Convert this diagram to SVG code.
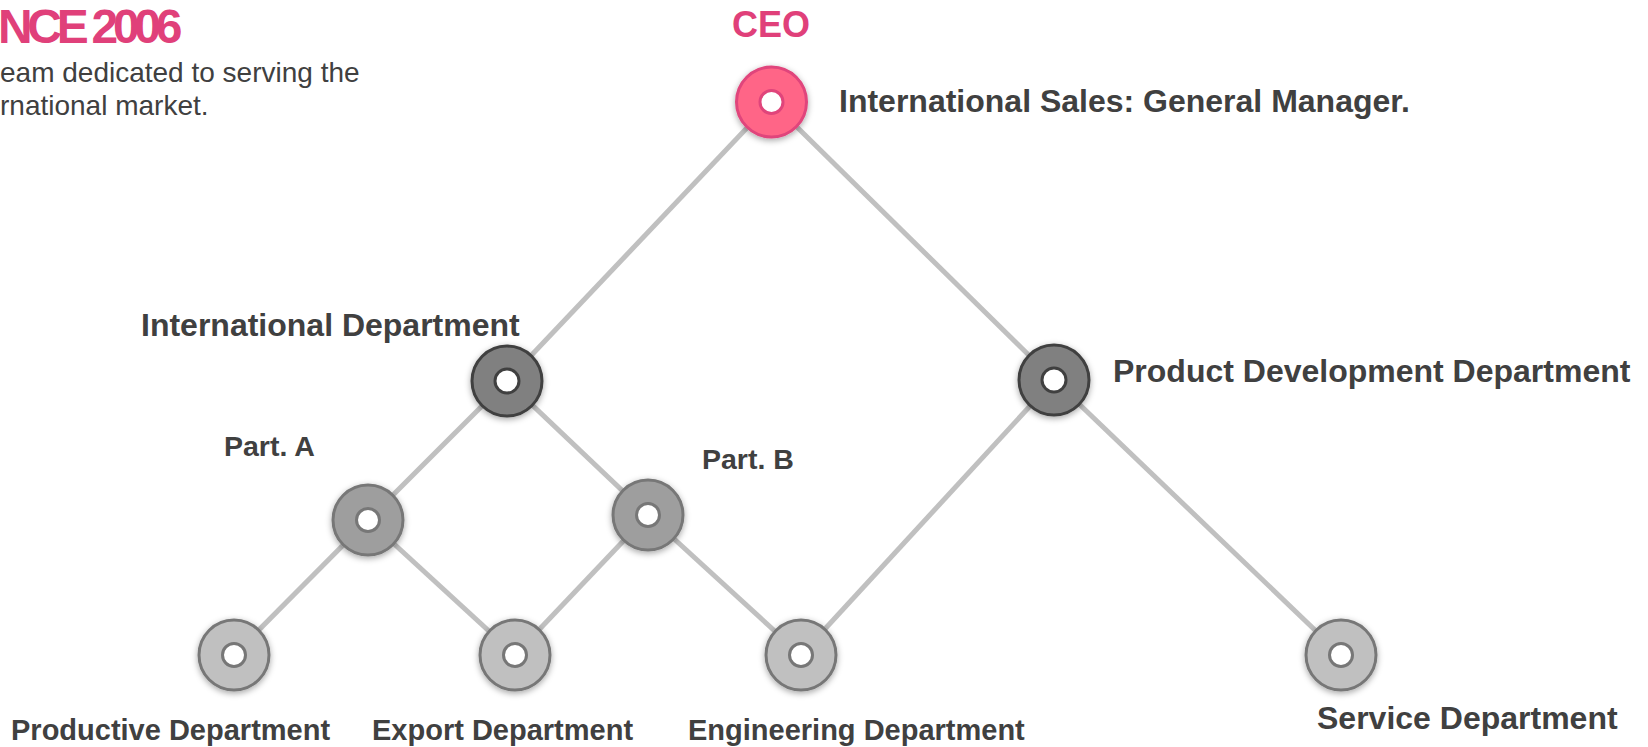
<svg xmlns="http://www.w3.org/2000/svg" width="1648" height="747" viewBox="0 0 1648 747">
<defs>
<filter id="sh" x="-30%" y="-30%" width="160%" height="160%">
<feDropShadow dx="0" dy="2" stdDeviation="3" flood-color="#000" flood-opacity="0.35"/>
</filter>
<style>
.t{font-family:"Liberation Sans",Arial,sans-serif;font-weight:bold;fill:#404040}
.ring{stroke-width:3}
.hole{fill:#fff;stroke-width:3}
.ceo .ring{fill:#ff6587;stroke:#e0457b}
.ceo .hole{stroke:#e0457b}
.dark .ring{fill:#808080;stroke:#404040}
.dark .hole{stroke:#404040}
.mid .ring{fill:#9e9e9e;stroke:#777}
.mid .hole{stroke:#777}
.light .ring{fill:#c0c0c0;stroke:#777}
.light .hole{stroke:#777}
.edge{stroke:#c0c0c0;stroke-width:5;fill:none}
</style>
</defs>
<rect width="1648" height="747" fill="#fff"/>
<g id="header">
<text x="-2" y="43" font-family="Liberation Sans,Arial,sans-serif" font-weight="bold" font-size="48" letter-spacing="-5.3" fill="#e0407a">NCE 2006</text>
<text x="0" y="82" font-family="Liberation Sans,Arial,sans-serif" font-size="28" fill="#404040">eam dedicated to serving the</text>
<text x="0" y="115" font-family="Liberation Sans,Arial,sans-serif" font-size="28" fill="#404040">rnational market.</text>
</g>
<g id="connectors">
<line class="edge" x1="771.5" y1="102" x2="507" y2="381"/>
<line class="edge" x1="771.5" y1="102" x2="1054" y2="380"/>
<line class="edge" x1="507" y1="381" x2="368" y2="520"/>
<line class="edge" x1="507" y1="381" x2="648" y2="515"/>
<line class="edge" x1="368" y1="520" x2="234" y2="655"/>
<line class="edge" x1="368" y1="520" x2="515" y2="655"/>
<line class="edge" x1="648" y1="515" x2="515" y2="655"/>
<line class="edge" x1="648" y1="515" x2="801" y2="655"/>
<line class="edge" x1="1054" y1="380" x2="801" y2="655"/>
<line class="edge" x1="1054" y1="380" x2="1341" y2="655"/>
</g>
<g id="ceo" class="ceo">
<circle class="ring" cx="771.5" cy="102" r="35" filter="url(#sh)"/>
<circle class="hole" cx="771.5" cy="102" r="11.5"/>
<text class="t" x="771" y="37" font-size="36" text-anchor="middle" style="fill:#e0407a">CEO</text>
<text class="t" x="839" y="112" font-size="32">International Sales: General Manager.</text>
</g>
<g id="international-department" class="dark">
<circle class="ring" cx="507" cy="381" r="35" filter="url(#sh)"/>
<circle class="hole" cx="507" cy="381" r="12"/>
<text class="t" x="141" y="336" font-size="32">International Department</text>
</g>
<g id="product-development" class="dark">
<circle class="ring" cx="1054" cy="380" r="35" filter="url(#sh)"/>
<circle class="hole" cx="1054" cy="380" r="12"/>
<text class="t" x="1113" y="382" font-size="32">Product Development Department</text>
</g>
<g id="part-a" class="mid">
<circle class="ring" cx="368" cy="520" r="35" filter="url(#sh)"/>
<circle class="hole" cx="368" cy="520" r="11.5"/>
<text class="t" x="224" y="456" font-size="28.5">Part. A</text>
</g>
<g id="part-b" class="mid">
<circle class="ring" cx="648" cy="515" r="35" filter="url(#sh)"/>
<circle class="hole" cx="648" cy="515" r="11.5"/>
<text class="t" x="702" y="469" font-size="28.5">Part. B</text>
</g>
<g id="productive-department" class="light">
<circle class="ring" cx="234" cy="655" r="35" filter="url(#sh)"/>
<circle class="hole" cx="234" cy="655" r="11.5"/>
<text class="t" x="11" y="740" font-size="29">Productive Department</text>
</g>
<g id="export-department" class="light">
<circle class="ring" cx="515" cy="655" r="35" filter="url(#sh)"/>
<circle class="hole" cx="515" cy="655" r="11.5"/>
<text class="t" x="372" y="740" font-size="29">Export Department</text>
</g>
<g id="engineering-department" class="light">
<circle class="ring" cx="801" cy="655" r="35" filter="url(#sh)"/>
<circle class="hole" cx="801" cy="655" r="11.5"/>
<text class="t" x="688" y="740" font-size="29">Engineering Department</text>
</g>
<g id="service-department" class="light">
<circle class="ring" cx="1341" cy="655" r="35" filter="url(#sh)"/>
<circle class="hole" cx="1341" cy="655" r="11.5"/>
<text class="t" x="1317" y="729" font-size="32">Service Department</text>
</g>
</svg>
